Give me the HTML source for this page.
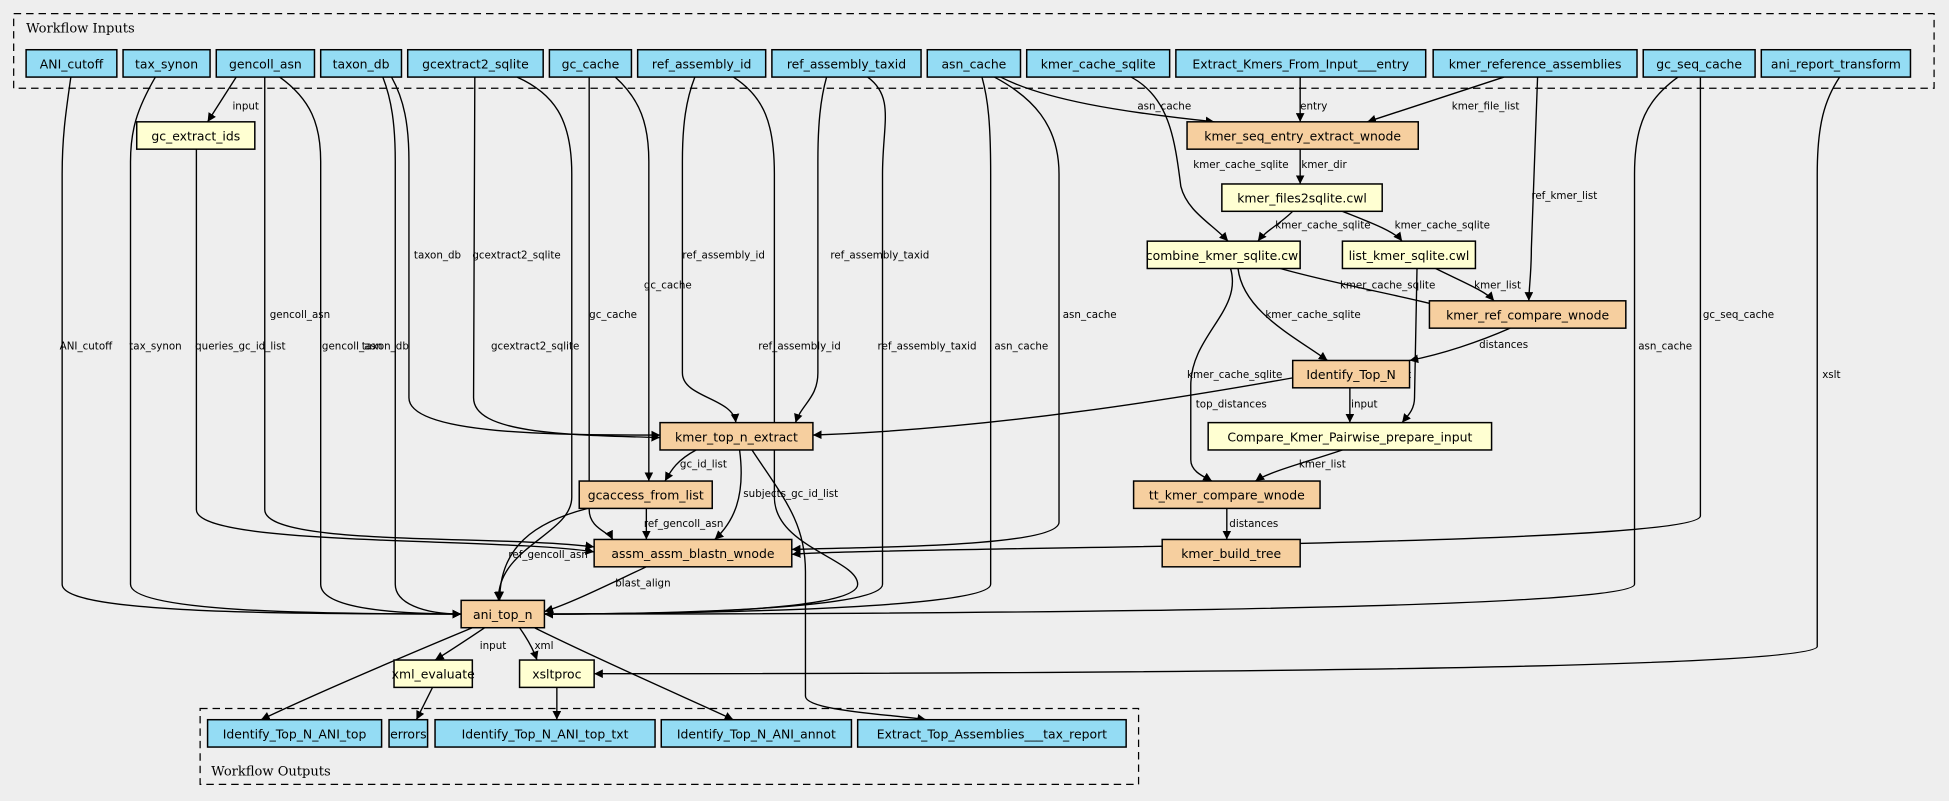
<!DOCTYPE html>
<html><head><meta charset="utf-8"><style>
html,body{margin:0;padding:0;background:#eeeeee;}
svg{display:block;}
text{font-family:"DejaVu Sans","Liberation Sans",sans-serif;fill:#000;}
.n{font-size:10px;}
.e{font-size:8.3px;}
.in{fill:#94dcf4;stroke:#000;stroke-width:1.2;}
.st{fill:#ffffd2;stroke:#000;stroke-width:1.2;}
.wf{fill:#f6cf9f;stroke:#000;stroke-width:1.2;}
path.c{fill:none;stroke:#000;stroke-width:1.1;marker-end:url(#a);}
</style></head><body>
<svg width="1949" height="801" viewBox="0 0 1568 644.4" xmlns="http://www.w3.org/2000/svg">
<defs><marker id="a" viewBox="0 0 10 10" refX="10" refY="5" markerWidth="7" markerHeight="7" orient="auto" markerUnits="userSpaceOnUse"><path d="M0,0 L10,5 L0,10z" fill="#000"/></marker></defs>
<rect x="0" y="0" width="1568" height="645" fill="#eeeeee"/>
<rect x="11" y="11" width="1545" height="60" fill="none" stroke="#000" stroke-dasharray="6,4"/>
<text x="21" y="26" style="font-family:'DejaVu Serif','Liberation Serif',serif;font-size:10.5px">Workflow Inputs</text>
<rect x="161" y="570" width="755" height="61" fill="none" stroke="#000" stroke-dasharray="6,4"/>
<text x="170" y="624" style="font-family:'DejaVu Serif','Liberation Serif',serif;font-size:10.5px">Workflow Outputs</text>

<g>
<path class="c" d="M57,62 C53,90 50,110 50,140 L50,470 C50,492 200,494 371,494"/>
<path class="c" d="M125,62 C110,88 105,105 105,130 L105,470 C105,492 250,494 371,494"/>
<path class="c" d="M190,62 L167,98"/>
<path class="c" d="M213,62 L213,410 C213,440 400,430 478,440"/>
<path class="c" d="M225,62 C250,80 258,100 258,130 L258,470 C258,490 320,494 371,494"/>
<path class="c" d="M158,120 L158,410 C158,440 400,432 478,444"/>
<path class="c" d="M308,62 C315,80 318,100 318,130 L318,470 C318,485 340,494 371,494"/>
<path class="c" d="M315,62 C325,80 329,100 329,130 L329,320 C329,350 450,350 531,350"/>
<path class="c" d="M382,62 L381,320 C381,348 450,350 531,352"/>
<path class="c" d="M416,62 C445,75 460,95 460,140 L460,400 C460,430 400,440 401,483"/>
<path class="c" d="M474,62 L474,410 C474,425 490,428 493,434"/>
<path class="c" d="M495,62 C515,80 522,100 522,130 L522,387"/>
<path class="c" d="M559,62 C552,80 549,100 549,130 L549,300 C549,320 590,320 592,340"/>
<path class="c" d="M590,62 C615,78 623,100 623,140 L623,400 C623,440 690,450 690,470 C690,494 500,494 438,494"/>
<path class="c" d="M665,62 C660,80 658,100 658,130 L658,300 C658,320 645,325 640,340"/>
<path class="c" d="M698,62 C720,78 710,100 710,140 L710,470 C710,492 500,494 438,494"/>
<path class="c" d="M790,62 C795,80 797,100 797,140 L797,470 C797,492 500,494 438,494"/>
<path class="c" d="M800,62 C830,78 852,100 852,140 L852,420 C852,440 700,440 637,442"/>
<path class="c" d="M805,62 C840,80 900,90 977,98"/>
<path class="c" d="M910,62 C940,78 945,110 950,150 C955,170 975,180 988,194"/>
<path class="c" d="M1046,62 L1046,98"/>
<path class="c" d="M1210,62 L1100,98"/>
<path class="c" d="M1237,62 L1232,200 C1232,220 1230,232 1230,242"/>
<path class="c" d="M1046,120 L1046,148"/>
<path class="c" d="M1040,170 C1030,180 1018,186 1012,194"/>
<path class="c" d="M1080,170 C1100,178 1122,186 1128,194"/>
<path class="c" d="M1030,216 C1080,230 1140,240 1172,250"/>
<path class="c" d="M1155,216 C1175,226 1195,234 1202,242"/>
<path class="c" d="M996,216 C1000,250 1040,270 1068,290"/>
<path class="c" d="M990,216 C1000,250 958,270 958,310 L958,370 C958,380 970,384 975,387"/>
<path class="c" d="M1140,216 L1138,320 C1138,330 1132,335 1128,340"/>
<path class="c" d="M1215,264 C1190,275 1160,285 1134,290"/>
<path class="c" d="M1086,312 L1086,340"/>
<path class="c" d="M1040,304 C950,320 800,345 654,350"/>
<path class="c" d="M1080,362 C1050,372 1020,380 1010,387"/>
<path class="c" d="M987,409 L987,434"/>
<path class="c" d="M560,362 C545,370 540,378 535,387"/>
<path class="c" d="M595,362 C600,400 590,420 575,434"/>
<path class="c" d="M605,362 C630,400 648,420 648,460 L648,560 C648,572 720,575 745,579"/>
<path class="c" d="M520,409 L520,434"/>
<path class="c" d="M473,409 C430,420 402,440 402,483"/>
<path class="c" d="M520,456 C490,470 460,485 438,492"/>
<path class="c" d="M1350,62 C1325,80 1315,100 1315,140 L1315,470 C1315,492 700,494 438,494"/>
<path class="c" d="M1368,62 L1368,415 C1368,440 700,440 637,446"/>
<path class="c" d="M1480,62 C1468,80 1462,100 1462,140 L1462,520 C1462,540 800,542 478,542"/>
<path class="c" d="M390,505 C375,515 360,525 350,531"/>
<path class="c" d="M418,505 C425,515 430,525 432,531"/>
<path class="c" d="M380,505 C320,530 250,560 210,579"/>
<path class="c" d="M430,505 C480,530 560,565 590,579"/>
<path class="c" d="M348,553 L335,579"/>
<path class="c" d="M448,553 L448,579"/>
</g>

<g class="e">
<text x="187" y="88">input</text>
<text x="48" y="281">ANI_cutoff</text>
<text x="104" y="281">tax_synon</text>
<text x="157" y="281">queries_gc_id_list</text>
<text x="217" y="256">gencoll_asn</text>
<text x="259" y="281">gencoll_asn</text>
<text x="291" y="281">taxon_db</text>
<text x="333" y="208">taxon_db</text>
<text x="380" y="208">gcextract2_sqlite</text>
<text x="395" y="281">gcextract2_sqlite</text>
<text x="474" y="256">gc_cache</text>
<text x="518" y="232">gc_cache</text>
<text x="549" y="208">ref_assembly_id</text>
<text x="610" y="281">ref_assembly_id</text>
<text x="668" y="208">ref_assembly_taxid</text>
<text x="706" y="281">ref_assembly_taxid</text>
<text x="800" y="281">asn_cache</text>
<text x="855" y="256">asn_cache</text>
<text x="915" y="88">asn_cache</text>
<text x="960" y="135">kmer_cache_sqlite</text>
<text x="1046" y="88">entry</text>
<text x="1168" y="88">kmer_file_list</text>
<text x="1232" y="160">ref_kmer_list</text>
<text x="1047" y="135">kmer_dir</text>
<text x="1026" y="184">kmer_cache_sqlite</text>
<text x="1122" y="184">kmer_cache_sqlite</text>
<text x="1078" y="232">kmer_cache_sqlite</text>
<text x="1186" y="232">kmer_list</text>
<text x="1018" y="256">kmer_cache_sqlite</text>
<text x="955" y="304">kmer_cache_sqlite</text>
<text x="1114" y="304">input</text>
<text x="1190" y="280">distances</text>
<text x="1087" y="328">input</text>
<text x="962" y="328">top_distances</text>
<text x="1045" y="376">kmer_list</text>
<text x="989" y="424">distances</text>
<text x="547" y="376">gc_id_list</text>
<text x="598" y="400">subjects_gc_id_list</text>
<text x="518" y="424">ref_gencoll_asn</text>
<text x="409" y="449">ref_gencoll_asn</text>
<text x="495" y="472">blast_align</text>
<text x="1318" y="281">asn_cache</text>
<text x="1370" y="256">gc_seq_cache</text>
<text x="1466" y="304">xslt</text>
<text x="386" y="522">input</text>
<text x="430" y="522">xml</text>
</g>

<g class="n">
<rect class="in" x="21" y="40" width="73" height="22"/><text x="57.5" y="55" text-anchor="middle">ANI_cutoff</text>
<rect class="in" x="99" y="40" width="70" height="22"/><text x="134" y="55" text-anchor="middle">tax_synon</text>
<rect class="in" x="174" y="40" width="79" height="22"/><text x="213.5" y="55" text-anchor="middle">gencoll_asn</text>
<rect class="in" x="258" y="40" width="65" height="22"/><text x="290.5" y="55" text-anchor="middle">taxon_db</text>
<rect class="in" x="328" y="40" width="109" height="22"/><text x="382.5" y="55" text-anchor="middle">gcextract2_sqlite</text>
<rect class="in" x="442" y="40" width="66" height="22"/><text x="475" y="55" text-anchor="middle">gc_cache</text>
<rect class="in" x="513" y="40" width="103" height="22"/><text x="564.5" y="55" text-anchor="middle">ref_assembly_id</text>
<rect class="in" x="621" y="40" width="120" height="22"/><text x="681" y="55" text-anchor="middle">ref_assembly_taxid</text>
<rect class="in" x="746" y="40" width="75" height="22"/><text x="783.5" y="55" text-anchor="middle">asn_cache</text>
<rect class="in" x="826" y="40" width="115" height="22"/><text x="883.5" y="55" text-anchor="middle">kmer_cache_sqlite</text>
<rect class="in" x="946" y="40" width="201" height="22"/><text x="1046.5" y="55" text-anchor="middle">Extract_Kmers_From_Input___entry</text>
<rect class="in" x="1153" y="40" width="164" height="22"/><text x="1235" y="55" text-anchor="middle">kmer_reference_assemblies</text>
<rect class="in" x="1322" y="40" width="90" height="22"/><text x="1367" y="55" text-anchor="middle">gc_seq_cache</text>
<rect class="in" x="1417" y="40" width="120" height="22"/><text x="1477" y="55" text-anchor="middle">ani_report_transform</text>

<rect class="st" x="110" y="98" width="95" height="22"/><text x="157.5" y="113" text-anchor="middle">gc_extract_ids</text>
<rect class="wf" x="955" y="98" width="186" height="22"/><text x="1048" y="113" text-anchor="middle">kmer_seq_entry_extract_wnode</text>
<rect class="st" x="983" y="148" width="129" height="22"/><text x="1047.5" y="163" text-anchor="middle">kmer_files2sqlite.cwl</text>
<rect class="st" x="923" y="194" width="123" height="22"/><text x="984.5" y="209" text-anchor="middle">combine_kmer_sqlite.cwl</text>
<rect class="st" x="1080" y="194" width="107" height="22"/><text x="1133.5" y="209" text-anchor="middle">list_kmer_sqlite.cwl</text>
<rect class="wf" x="1150" y="242" width="158" height="22"/><text x="1229" y="257" text-anchor="middle">kmer_ref_compare_wnode</text>
<rect class="wf" x="1040" y="290" width="94" height="22"/><text x="1087" y="305" text-anchor="middle">Identify_Top_N</text>
<rect class="wf" x="531" y="340" width="123" height="22"/><text x="592.5" y="355" text-anchor="middle">kmer_top_n_extract</text>
<rect class="st" x="972" y="340" width="228" height="22"/><text x="1086" y="355" text-anchor="middle">Compare_Kmer_Pairwise_prepare_input</text>
<rect class="wf" x="466" y="387" width="107" height="22"/><text x="519.5" y="402" text-anchor="middle">gcaccess_from_list</text>
<rect class="wf" x="912" y="387" width="150" height="22"/><text x="987" y="402" text-anchor="middle">tt_kmer_compare_wnode</text>
<rect class="wf" x="478" y="434" width="159" height="22"/><text x="557.5" y="449" text-anchor="middle">assm_assm_blastn_wnode</text>
<rect class="wf" x="935" y="434" width="111" height="22"/><text x="990.5" y="449" text-anchor="middle">kmer_build_tree</text>
<rect class="wf" x="371" y="483" width="67" height="22"/><text x="404.5" y="498" text-anchor="middle">ani_top_n</text>
<rect class="st" x="317" y="531" width="63" height="22"/><text x="348.5" y="546" text-anchor="middle">xml_evaluate</text>
<rect class="st" x="418" y="531" width="60" height="22"/><text x="448" y="546" text-anchor="middle">xsltproc</text>

<rect class="in" x="167" y="579" width="140" height="22"/><text x="237" y="594" text-anchor="middle">Identify_Top_N_ANI_top</text>
<rect class="in" x="313" y="579" width="31" height="22"/><text x="328.5" y="594" text-anchor="middle">errors</text>
<rect class="in" x="350" y="579" width="177" height="22"/><text x="438.5" y="594" text-anchor="middle">Identify_Top_N_ANI_top_txt</text>
<rect class="in" x="532" y="579" width="153" height="22"/><text x="608.5" y="594" text-anchor="middle">Identify_Top_N_ANI_annot</text>
<rect class="in" x="690" y="579" width="216" height="22"/><text x="798" y="594" text-anchor="middle">Extract_Top_Assemblies___tax_report</text>
</g>
</svg>
</body></html>
